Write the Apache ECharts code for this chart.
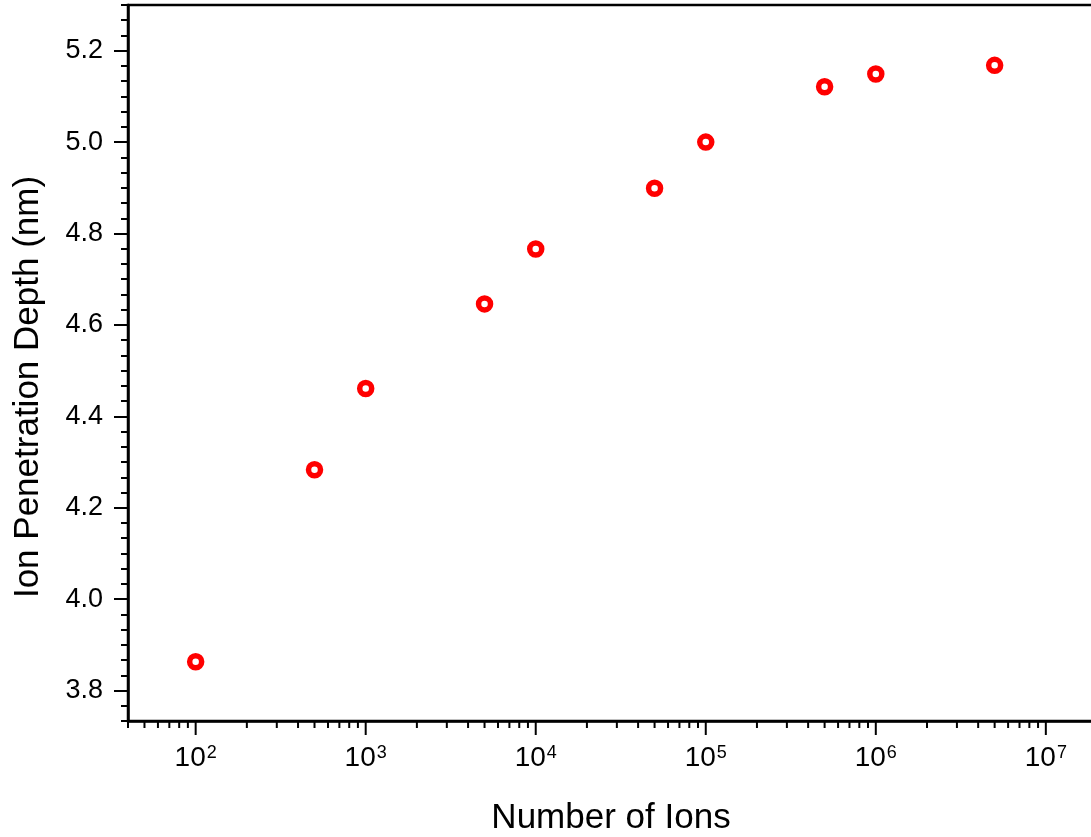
<!DOCTYPE html>
<html>
<head>
<meta charset="utf-8">
<script src="https://cdn.jsdelivr.net/npm/echarts@6/dist/echarts.min.js"></script>
<style>
  html, body { margin: 0; padding: 0; background: #fff; }
  #chart { width: 1091px; height: 837px; }
</style>
</head>
<body>
<div id="chart"></div>
<script>
var ions = [100, 500, 1000, 5000, 10000, 50000, 100000, 500000, 1000000, 5000000];
var depth = [3.863, 4.283, 4.461, 4.646, 4.766, 4.899, 5.0, 5.121, 5.149, 5.168];
var yTicks = [3.8, 4.0, 4.2, 4.4, 4.6, 4.8, 5.0, 5.2];
var xMajor = [1e2, 1e3, 1e4, 1e5, 1e6, 1e7];

var xMin = 40, xMax = 1.92e7;
var yMin = 112 / 30, yMax = 5.3;
var font = 'Liberation Sans, Arial, sans-serif';

// log-spaced minor tick positions (2..9 x 10^d)
var xMinor = [];
for (var d = 1; d <= 7; d++) {
  for (var k = 2; k <= 9; k++) {
    var v = k * Math.pow(10, d);
    if (v >= xMin && v <= xMax) xMinor.push(v);
  }
}

function tickSeries(values, len) {
  return {
    type: 'custom',
    silent: true,
    clip: false,
    data: values.map(function(v) { return [v, yMin]; }),
    renderItem: function(params, api) {
      var p = api.coord([api.value(0), api.value(1)]);
      return {
        type: 'line',
        shape: { x1: p[0], y1: p[1], x2: p[0], y2: p[1] + len },
        style: { stroke: '#000', lineWidth: 2 }
      };
    },
    z: 5
  };
}

var chart = echarts.init(document.getElementById('chart'), null, { renderer: 'canvas' });
chart.setOption({
  animation: false,
  grid: {
    left: 128, top: 5, right: -3, bottom: 116,
    outerBoundsMode: 'none',
    containLabel: false,
    show: true, borderColor: '#000', borderWidth: 2.5, backgroundColor: 'transparent'
  },
  xAxis: {
    type: 'log',
    logBase: 10,
    min: xMin,
    max: xMax,
    name: 'Number of Ions',
    nameLocation: 'middle',
    nameGap: 80,
    nameTextStyle: { color: '#000', fontSize: 35, fontFamily: font },
    axisLine: { lineStyle: { color: '#000', width: 2.5 } },
    axisTick: { show: false },
    splitLine: { show: false },
    axisLabel: {
      margin: 23,
      fontSize: 28,
      color: '#000',
      fontFamily: font,
      formatter: function(v) {
        var e = Math.log10(v);
        var r = Math.round(e);
        if (Math.abs(e - r) > 1e-6) return '';
        return '{b|10}{s|' + r + '}';
      },
      rich: {
        b: { fontSize: 28, color: '#000', fontFamily: font },
        s: { fontSize: 18, color: '#000', fontFamily: font, verticalAlign: 'top', padding: [0, 0, 4, 1] }
      }
    }
  },
  yAxis: [
    {
      type: 'value',
      position: 'left',
      min: yMin,
      max: yMax,
      name: 'Ion Penetration Depth (nm)',
      nameLocation: 'middle',
      nameGap: 82,
      nameTextStyle: { color: '#000', fontSize: 35, fontFamily: font, padding: [0, 48, 0, 0] },
      axisLine: { show: true, lineStyle: { color: '#000', width: 2.5 } },
      axisTick: { show: true, length: 14, customValues: yTicks, lineStyle: { color: '#000', width: 2 } },
      axisLabel: {
        customValues: yTicks,
        margin: 25,
        color: '#000',
        fontSize: 27,
        fontFamily: font,
        formatter: function(v) { return v.toFixed(1); }
      },
      splitLine: { show: false }
    },
    {
      type: 'value',
      position: 'left',
      min: yMin,
      max: yMax,
      interval: 1 / 30,
      axisLine: { show: false },
      axisTick: { show: true, length: 7, lineStyle: { color: '#000', width: 2 } },
      axisLabel: { show: false },
      splitLine: { show: false }
    }
  ],
  series: [
    {
      type: 'scatter',
      data: ions.map(function(x, i) { return [x, depth[i]]; }),
      symbol: 'circle',
      symbolSize: 12,
      itemStyle: { color: '#fff', borderColor: '#ff0000', borderWidth: 5.5, opacity: 1 },
      z: 10
    },
    tickSeries(xMajor, 14),
    tickSeries(xMinor, 7)
  ]
});
window.addEventListener('resize', function() { chart.resize(); });
</script>
</body>
</html>
